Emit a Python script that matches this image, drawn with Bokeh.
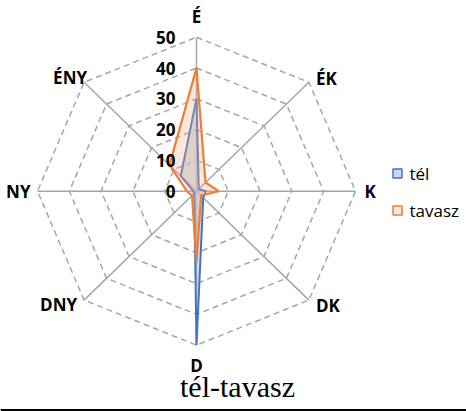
import numpy as np
from bokeh.plotting import figure
from bokeh.models import Range1d
from bokeh.core.properties import value
from bokeh.embed import file_html
from bokeh.resources import INLINE

directions = ["É", "ÉK", "K", "DK", "D", "DNY", "NY", "ÉNY"]
tel = [30, 1, 3, 3, 50, 1, 1, 7]
tavasz = [40, 4, 7, 2, 23, 2, 3, 12]
ticks = [0, 10, 20, 30, 40, 50]
series_names = ["tél", "tavasz"]
title_text = "tél-tavasz"

W, H = 466, 411
sx = 159 / 50.0  # px per unit horizontally
sy = 154 / 50.0  # px per unit vertically
cx_px, cy_px = 196, 190.7  # center in pixels from top-left
x0 = -cx_px / sx
y1 = cy_px / sy
p = figure(width=W, height=H, output_backend="svg", toolbar_location=None,
           x_range=Range1d(x0, x0 + W / sx), y_range=Range1d(y1 - H / sy, y1),
           min_border=0, outline_line_color=None)
p.xaxis.visible = False
p.yaxis.visible = False
p.grid.visible = False

def px(x, y):
    """pixel (from top-left) -> data"""
    return (x - cx_px) / sx, (cy_px - y) / sy

n = len(directions)
ang = np.pi / 2 - np.arange(n) * 2 * np.pi / n
ca, sa = np.cos(ang), np.sin(ang)

grid_col = "#A6A6A6"
for t in ticks[1:]:
    xs = list(t * ca) + [t * ca[0]]
    ys = list(t * sa) + [t * sa[0]]
    p.line(xs, ys, line_color=grid_col, line_width=1.5, line_dash="6 4")
for i in range(n):
    p.line([0, 50 * ca[i]], [0, 50 * sa[i]], line_color=grid_col, line_width=1.5)

def poly(vals):
    v = np.array(vals, dtype=float)
    return list(v * ca), list(v * sa)

xt, yt = poly(tel)
p.patch(xt, yt, fill_color="#BCC8DC", fill_alpha=0.6, line_color="#4472C4", line_width=2)
xv, yv = poly(tavasz)
p.patch(xv, yv, fill_color="#F4B183", fill_alpha=0.3, line_color="#ED7D31", line_width=2.2)

lab_font = value("Open Sans")
offs = {"É": (0, -21, "center"), "ÉK": (7, -4, "left"), "K": (9, 0, "left"),
        "DK": (7, 5, "left"), "D": (0, 20, "center"), "DNY": (-7, 4, "right"),
        "NY": (-7, 0, "right"), "ÉNY": (3, -5, "right")}
for i, d in enumerate(directions):
    vx = cx_px + 50 * ca[i] * sx
    vy = cy_px - 50 * sa[i] * sy
    dx, dy, al = offs[d]
    lx, ly = px(vx + dx, vy + dy)
    p.text([lx], [ly], text=[d], text_font=lab_font, text_font_style="bold",
           text_font_size="17px", text_align=al, text_baseline="middle", text_color="#000000")

for t in ticks:
    p.text([-21 / sx], [t], text=[str(t)], text_font=lab_font, text_font_style="bold",
           text_font_size="17px", text_align="right", text_baseline="middle", text_color="#000000")

leg_cols = [("#4472C4", "#C9D7EF"), ("#ED7D31", "#F6E6DC")]
for k, name in enumerate(series_names):
    rx, ry = px(397, 173 + k * 37)
    p.rect([rx], [ry], width=9 / sx, height=9 / sy, fill_color=leg_cols[k][1],
           line_color=leg_cols[k][0], line_width=1.5)
    tx, ty = px(409, 173 + k * 37)
    p.text([tx], [ty], text=[name], text_font=lab_font, text_font_size="17px",
           text_align="left", text_baseline="middle", text_color="#000000")

tx, ty = px(237, 386)
p.text([tx], [ty], text=[title_text], text_font=value("Liberation Serif"),
       text_font_size="30px", text_align="center", text_baseline="middle", text_color="#000000")

bx0, by = px(0, 409.5)
bx1, _ = px(W, 409.5)
p.line([bx0, bx1], [by, by], line_color="#000000", line_width=2)

open("out.html", "w").write(file_html(p, INLINE))
